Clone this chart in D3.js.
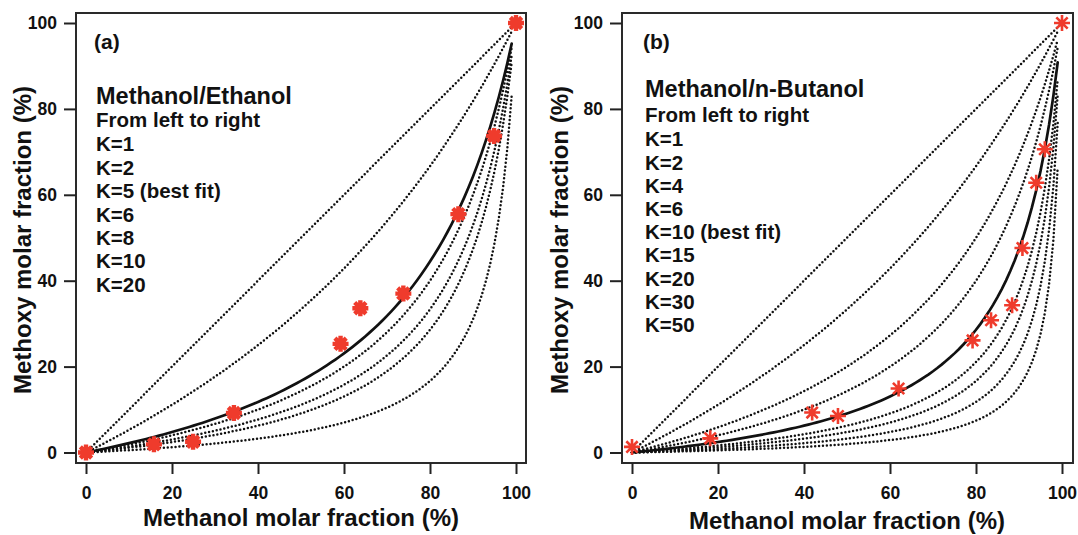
<!DOCTYPE html>
<html>
<head>
<meta charset="utf-8">
<script src="https://cdn.jsdelivr.net/npm/d3@7"></script>
<style>
  body { margin: 0; background: #fff; }
  svg text { font-family: "Liberation Sans", Arial, Helvetica, sans-serif; font-weight: bold; fill: #111; }
</style>
</head>
<body>
<svg id="figure" width="1078" height="535"></svg>
<script>
// selectivity constants plotted in each panel (K=1 is the diagonal)
const kEthanol = [1, 2, 5, 6, 8, 10, 20];
const bestKEthanol = 5;
const kButanol = [1, 2, 4, 6, 10, 15, 20, 30, 50];
const bestKButanol = 10;

// measured points, methanol % vs methoxy %
const ethanolMethanol = [0, 15.8, 24.9, 34.4, 59.2, 63.8, 73.8, 86.6, 94.9, 100];
const ethanolMethoxy  = [0, 1.9, 2.5, 9.2, 25.3, 33.6, 37.0, 55.5, 73.7, 100];
const butanolMethanol = [0, 18.2, 41.9, 47.9, 62.0, 79.2, 83.5, 88.4, 90.8, 94.0, 96.0, 100];
const butanolMethoxy  = [1.3, 3.3, 9.3, 8.5, 14.9, 26.1, 30.8, 34.3, 47.6, 62.8, 70.6, 100];

const tickValues = [0, 20, 40, 60, 80, 100];
// methanol fractions at which the model curves are evaluated
const methanolGrid = d3.range(0, 100, 1);

const svg = d3.select("#figure");

// methoxy fraction (%) for a methanol fraction (%) and a selectivity K
function methoxyFraction(x, k) {
    const f = x / 100;
    return 100 * f / (f + k * (1 - f));
}

function asterisk(r) {
    const a = r * Math.SQRT1_2;
    return `M${-r},0L${r},0M0,${-r}L0,${r}M${-a},${-a}L${a},${a}M${-a},${a}L${a},${-a}`;
}

function drawPanel(p) {
    const x = d3.scaleLinear().domain([0, 100]).range([p.x0, p.x1]);
    const y = d3.scaleLinear().domain([0, 100]).range([452.5, 23]);
    const g = svg.append("g");

    // model curves
    const line = d3.line().x(d => x(d[0])).y(d => y(d[1]));
    p.ks.forEach(k => {
        const pts = methanolGrid.map(v => [v, methoxyFraction(v, k)]);
        if (k === 1) pts.push([100, 100]);
        const best = k === p.best;
        g.append("path")
            .attr("d", line(pts))
            .attr("fill", "none")
            .attr("stroke", "#111")
            .attr("stroke-width", best ? 2.7 : 2.5)
            .attr("stroke-linecap", "round")
            .attr("stroke-dasharray", best ? null : "0 3.9");
    });

    // measured points
    g.selectAll("path.pt")
        .data(p.mx.map((v, i) => [v, p.my[i]]))
        .join("path")
        .attr("class", "pt")
        .attr("transform", d => `translate(${x(d[0])},${y(d[1])})`)
        .attr("d", asterisk(p.markR))
        .attr("stroke", "#ef3b2c")
        .attr("stroke-width", p.markW)
        .attr("stroke-linecap", "butt");

    // frame
    g.append("rect")
        .attr("x", p.fx0).attr("y", 13)
        .attr("width", p.fx1 - p.fx0).attr("height", 450)
        .attr("fill", "none")
        .attr("stroke", "#2a2a2a")
        .attr("stroke-width", 2);

    // axes
    const yAxis = g.append("g")
        .attr("transform", `translate(${p.fx0},0)`)
        .call(d3.axisLeft(y).tickValues(tickValues).tickSize(12).tickPadding(7));
    const xAxis = g.append("g")
        .attr("transform", "translate(0,463)")
        .call(d3.axisBottom(x).tickValues(tickValues).tickSize(11).tickPadding(13));
    [yAxis, xAxis].forEach(a => {
        a.select(".domain").remove();
        a.selectAll(".tick line").attr("stroke", "#222").attr("stroke-width", 2);
        a.selectAll(".tick text")
            .attr("fill", "#111")
            .style("font-size", "17.5px")
            .style("font-family", "'Liberation Sans', Arial, sans-serif")
            .style("font-weight", "bold");
    });

    g.append("text")
        .attr("x", (p.x0 + p.x1) / 2)
        .attr("y", p.xTitleY)
        .attr("text-anchor", "middle")
        .style("font-size", "24px")
        .text("Methanol molar fraction (%)");

    g.append("text")
        .attr("transform", `translate(${p.yTitleX},240) rotate(-90)`)
        .attr("text-anchor", "middle")
        .attr("dy", "0.36em")
        .style("font-size", "24px")
        .text("Methoxy molar fraction (%)");

    // panel letter and in-plot legend text
    g.append("text").attr("x", p.lx - 2).attr("y", 49)
        .style("font-size", "21px").text(p.letter);
    g.append("text").attr("x", p.lx).attr("y", p.titleY)
        .style("font-size", "23.5px").text(p.title);
    g.append("text").attr("x", p.lx).attr("y", p.fromY)
        .style("font-size", "20.5px").text("From left to right");
    g.selectAll("text.k")
        .data(p.ks)
        .join("text")
        .attr("class", "k")
        .attr("x", p.lx)
        .attr("y", (d, i) => p.fromY + 24.3 + i * p.step)
        .style("font-size", "20.5px")
        .text(d => d === p.best ? `K=${d} (best fit)` : `K=${d}`);
}

drawPanel({
    x0: 86, x1: 516, fx0: 76, fx1: 526,
    ks: kEthanol, best: bestKEthanol,
    mx: ethanolMethanol, my: ethanolMethoxy,
    markR: 8, markW: 4.4,
    xTitleY: 526, yTitleX: 22,
    letter: "(a)", title: "Methanol/Ethanol",
    lx: 96, titleY: 104, fromY: 127, step: 23.4
});

drawPanel({
    x0: 632, x1: 1062, fx0: 622, fx1: 1073,
    ks: kButanol, best: bestKButanol,
    mx: butanolMethanol, my: butanolMethoxy,
    markR: 8, markW: 2.6,
    xTitleY: 529, yTitleX: 559,
    letter: "(b)", title: "Methanol/n-Butanol",
    lx: 645, titleY: 97, fromY: 122, step: 23.2
});
</script>
</body>
</html>
